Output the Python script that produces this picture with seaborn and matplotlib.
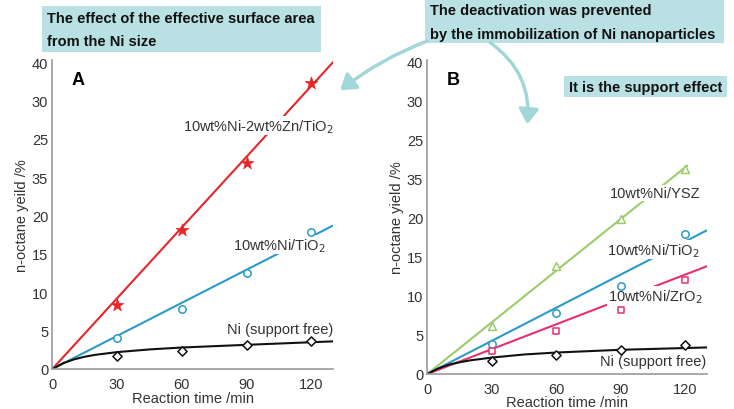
import numpy as np
import pandas as pd
import seaborn as sns
import matplotlib.pyplot as plt
from matplotlib.patches import FancyArrowPatch

sns.set_theme(style="white")
plt.rcParams['font.family'] = ['Liberation Sans', 'DejaVu Sans']

# ---- data ----
time = [30, 60, 90, 120]
# Panel A
a_nizn = [8.4, 18.1, 26.9, 37.3]
a_niti = [4.0, 7.85, 12.5, 17.9]
a_free = [1.7, 2.4, 3.1, 3.7]
# Panel B
b_ysz = [6.2, 13.8, 19.9, 26.3]
b_niti = [3.9, 7.8, 11.3, 17.9]
b_zro = [3.0, 5.5, 8.2, 12.1]
b_free = [1.7, 2.4, 3.1, 3.7]

# fitted lines
fit_x = [0, 130]
a_nizn_fit = [0, 40.0]
a_niti_fit = [0, 18.7]
b_ysz_fit_x = [0, 121]
b_ysz_fit = [0, 26.7]
b_niti_fit = [0, 18.4]
b_zro_fit = [0, 13.8]
free_fit_x = [0, 5, 10, 15, 20, 30, 45, 60, 90, 130]
a_free_fit = [0, 0.75, 1.25, 1.6, 1.85, 2.2, 2.55, 2.8, 3.15, 3.6]
b_free_fit = [0, 0.7, 1.2, 1.5, 1.75, 2.1, 2.5, 2.75, 3.1, 3.4]

ytick_pos = [0, 5, 10, 15, 20, 25, 30, 35, 40]
ytick_labels = ['0', '5', '10', '15', '20', '35', '25', '30', '40']
xticks = [0, 30, 60, 90, 120]

RED = '#e8262a'
BLUE = '#2b9ac6'
GREEN = '#9ccb6b'
PINK = '#e8306e'
BLACK = '#111111'
BOX = '#b9e0e2'
ARROW = '#a2d6d9'
TXT = '#333333'

fig = plt.figure(figsize=(7.34, 4.10), dpi=100)
axA = fig.add_axes([0.0713, 0.0976, 0.3825, 0.754])
axB = fig.add_axes([0.5822, 0.0854, 0.3806, 0.767])


def style(ax, ylabel, xpad, xlabelpad):
    ax.set_xlim(0, 130)
    ax.set_ylim(0, 40.3)
    ax.set_xticks(xticks)
    ax.set_xticklabels([str(t) for t in xticks])
    ax.set_yticks(ytick_pos)
    ax.set_yticklabels(ytick_labels)
    for s in ['top', 'right']:
        ax.spines[s].set_visible(False)
    for s in ['left', 'bottom']:
        ax.spines[s].set_color('#999999')
        ax.spines[s].set_linewidth(1.2)
    ax.tick_params(axis='both', direction='in', length=3, width=1,
                   color='#999999', labelsize=10.5, labelcolor=TXT)
    ax.tick_params(axis='x', pad=xpad)
    ax.tick_params(axis='y', pad=3)
    ax.set_xlabel('Reaction time /min', fontsize=10.5, color=TXT, labelpad=xlabelpad)
    ax.set_ylabel(ylabel, fontsize=10.5, color=TXT, labelpad=2)
    ax.set_facecolor('white')


def fitline(ax, x, y, color):
    sns.lineplot(x=x, y=y, ax=ax, color=color, lw=1.5, zorder=2)


def pts(ax, y, color, marker, filled=False, size=40):
    if filled:
        sns.scatterplot(x=time, y=y, ax=ax, marker=marker, s=size, color=color,
                        edgecolor=color, linewidth=0.5, zorder=4)
    else:
        sns.scatterplot(x=time, y=y, ax=ax, marker=marker, s=size,
                        facecolor='white', edgecolor=color, linewidth=1.1, zorder=4)


def label(ax, x, y, text):
    ax.text(x, y, text, ha='right', va='center', fontsize=10.5, color=TXT, zorder=3,
            bbox=dict(facecolor='white', edgecolor='none', pad=0.5))

# Panel A
fitline(axA, fit_x, a_nizn_fit, RED)
fitline(axA, fit_x, a_niti_fit, BLUE)
fitline(axA, free_fit_x, a_free_fit, BLACK)
pts(axA, a_nizn, RED, '*', filled=True, size=90)
pts(axA, a_niti, BLUE, 'o', size=28)
pts(axA, a_free, BLACK, 'D', size=22)
label(axA, 130, 31.7, '10wt%Ni-2wt%Zn/TiO$_2$')
label(axA, 126.5, 16.2, '10wt%Ni/TiO$_2$')
label(axA, 130, 5.2, 'Ni (support free)')
axA.text(9, 37.8, 'A', fontsize=13, fontweight='bold', color='black', va='center')
style(axA, 'n-octane yeild /%', 6, 0)

# Panel B
fitline(axB, b_ysz_fit_x, b_ysz_fit, GREEN)
fitline(axB, fit_x, b_niti_fit, BLUE)
fitline(axB, fit_x, b_zro_fit, PINK)
fitline(axB, free_fit_x, b_free_fit, BLACK)
pts(axB, b_ysz, GREEN, '^', size=32)
pts(axB, b_niti, BLUE, 'o', size=28)
pts(axB, b_zro, PINK, 's', size=24)
pts(axB, b_free, BLACK, 'D', size=22)
label(axB, 127, 23.2, '10wt%Ni/YSZ')
label(axB, 127, 15.9, '10wt%Ni/TiO$_2$')
label(axB, 128, 10.0, '10wt%Ni/ZrO$_2$')
label(axB, 130, 1.65, 'Ni (support free)')
axB.text(9, 37.8, 'B', fontsize=13, fontweight='bold', color='black', va='center')
style(axB, 'n-octane yield /%', 6, -1)

W, H = 734, 410


def fx(px):
    return px / W


def fy(py):
    return 1 - py / H


def box(x0, y0, x1, y1, lines, ys):
    fig.patches.append(plt.Rectangle((fx(x0), fy(y1)), fx(x1) - fx(x0), fy(y0) - fy(y1),
                                     transform=fig.transFigure, facecolor=BOX,
                                     edgecolor='none', zorder=0))
    for t, yy in zip(lines, ys):
        fig.text(fx(x0 + 5), fy(yy), t, fontsize=10.5, fontweight='bold',
                 color='#111111', va='center', ha='left')

box(42, 7, 321, 53, ['The effect of the effective surface area', 'from the Ni size'], [19, 42])
box(425, 0, 724, 44, ['The deactivation was prevented', 'by the immobilization of Ni nanoparticles'], [11, 35])
box(564, 77, 727, 98, ['It is the support effect'], [88])

a1 = FancyArrowPatch((fx(430), fy(41)), (fx(338), fy(93)), transform=fig.transFigure,
                     arrowstyle='-|>,head_length=9,head_width=6', color=ARROW, lw=2.5,
                     connectionstyle='arc3,rad=0.08', mutation_scale=1)
a2 = FancyArrowPatch((fx(488), fy(42)), (fx(527), fy(128)), transform=fig.transFigure,
                     arrowstyle='-|>,head_length=9,head_width=6', color=ARROW, lw=2.5,
                     connectionstyle='arc3,rad=-0.3', mutation_scale=1)
fig.patches.extend([a1, a2])

fig.savefig('out.png', dpi=100, facecolor='white')
